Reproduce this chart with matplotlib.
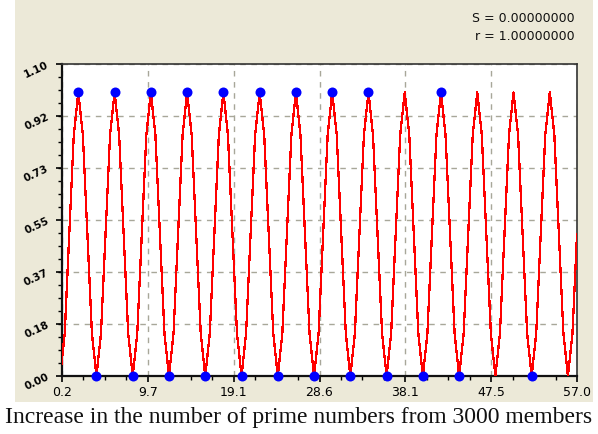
import matplotlib
matplotlib.use("Agg")
import matplotlib.pyplot as plt
import numpy as np
from matplotlib.patches import Rectangle

# fitted curve, read every 0.5 along x from 0.0 to 57.0
curve_step = 0.5
curve_y = [
    0.00, 0.15, 0.50, 0.85, 1.00, 0.85, 0.50, 0.15,  # 0 .. 3.5
    0.00, 0.15, 0.50, 0.85, 1.00, 0.85, 0.50, 0.15,  # 4 .. 7.5
    0.00, 0.15, 0.50, 0.85, 1.00, 0.85, 0.50, 0.15,  # 8 .. 11.5
    0.00, 0.15, 0.50, 0.85, 1.00, 0.85, 0.50, 0.15,  # 12 .. 15.5
    0.00, 0.15, 0.50, 0.85, 1.00, 0.85, 0.50, 0.15,  # 16 .. 19.5
    0.00, 0.15, 0.50, 0.85, 1.00, 0.85, 0.50, 0.15,  # 20 .. 23.5
    0.00, 0.15, 0.50, 0.85, 1.00, 0.85, 0.50, 0.15,  # 24 .. 27.5
    0.00, 0.15, 0.50, 0.85, 1.00, 0.85, 0.50, 0.15,  # 28 .. 31.5
    0.00, 0.15, 0.50, 0.85, 1.00, 0.85, 0.50, 0.15,  # 32 .. 35.5
    0.00, 0.15, 0.50, 0.85, 1.00, 0.85, 0.50, 0.15,  # 36 .. 39.5
    0.00, 0.15, 0.50, 0.85, 1.00, 0.85, 0.50, 0.15,  # 40 .. 43.5
    0.00, 0.15, 0.50, 0.85, 1.00, 0.85, 0.50, 0.15,  # 44 .. 47.5
    0.00, 0.15, 0.50, 0.85, 1.00, 0.85, 0.50, 0.15,  # 48 .. 51.5
    0.00, 0.15, 0.50, 0.85, 1.00, 0.85, 0.50, 0.15,  # 52 .. 55.5
    0.00, 0.15, 0.50,                                # 56 .. 57
]

# data points
peak_x = [2, 6, 10, 14, 18, 22, 26, 30, 34, 42]
peak_y = [1.0, 1.0, 1.0, 1.0, 1.0, 1.0, 1.0, 1.0, 1.0, 1.0]
trough_x = [4, 8, 12, 16, 20, 24, 28, 32, 36, 40, 44, 52]
trough_y = [0.0, 0.0, 0.0, 0.0, 0.0, 0.0, 0.0, 0.0, 0.0, 0.0, 0.0, 0.0]

x_ticks = [0.2, 9.667, 19.133, 28.6, 38.067, 47.533, 57.0]
x_labels = ["0.2", "9.7", "19.1", "28.6", "38.1", "47.5", "57.0"]
y_ticks = [0.0, 0.1833, 0.3667, 0.55, 0.7333, 0.9167, 1.10]
y_labels = ["0.00", "0.18", "0.37", "0.55", "0.73", "0.92", "1.10"]

title = "Increase in the number of prime numbers from 3000 members"
stats = ["S = 0.00000000", "r = 1.00000000"]

W, H = 598, 434
BEIGE = "#ece9d8"

fig = plt.figure(figsize=(W / 100, H / 100), dpi=100, facecolor="white")

# beige panel behind the chart
fig.patches.append(Rectangle((15 / W, 1 - 402 / H), 578 / W, 402 / H,
                             transform=fig.transFigure, facecolor=BEIGE,
                             edgecolor="none", zorder=-10))

ax = fig.add_axes([62 / W, 1 - 376 / H, 515 / W, 312 / H])
ax.set_zorder(2)
ax.set_facecolor("white")

curve_x = np.arange(len(curve_y)) * curve_step
ax.plot(curve_x, curve_y, color="#ff0000", lw=0.9, antialiased=False, zorder=3)
ax.plot(peak_x, peak_y, "o", color="#0000ff", ms=7.2, mec="none",
        clip_on=False, zorder=4)
ax.plot(trough_x, trough_y, "o", color="#0000ff", ms=7.2, mec="none",
        clip_on=False, zorder=4)

ax.set_xlim(0.2, 57.0)
ax.set_ylim(0.0, 1.10)

ax.set_xticks(x_ticks)
ax.set_xticklabels(x_labels, fontsize=9)
ax.set_xticks(np.linspace(0.2, 57.0, 25), minor=True)
ax.set_yticks(y_ticks)
ax.set_yticklabels(y_labels, fontsize=7.5, fontweight="bold", rotation=25)
ax.set_yticks(np.linspace(0.0, 1.10, 25), minor=True)

ax.tick_params(which="major", direction="out", length=4.5, width=1.2, pad=3)
ax.tick_params(which="minor", direction="out", length=3, width=1.0)
ax.tick_params(axis="y", which="major", pad=4)

ax.grid(True, which="major", linestyle=(0, (4, 4)), color="#a8a799", lw=1.0)

for side in ["left", "bottom"]:
    ax.spines[side].set_linewidth(1.6)
    ax.spines[side].set_color("#111111")
for side in ["top", "right"]:
    ax.spines[side].set_linewidth(1.2)
    ax.spines[side].set_color("#333333")

for i, line in enumerate(stats):
    fig.text(575 / W, 1 - (18 + 19 * i) / H, line, ha="right", va="center",
             fontsize=9, color="#111111")

fig.text(5 / W, 1 - 418 / H, title, ha="left", va="center",
         fontsize=17, family="Liberation Serif", color="#111111")

fig.savefig("out.png", dpi=100, facecolor="white")
